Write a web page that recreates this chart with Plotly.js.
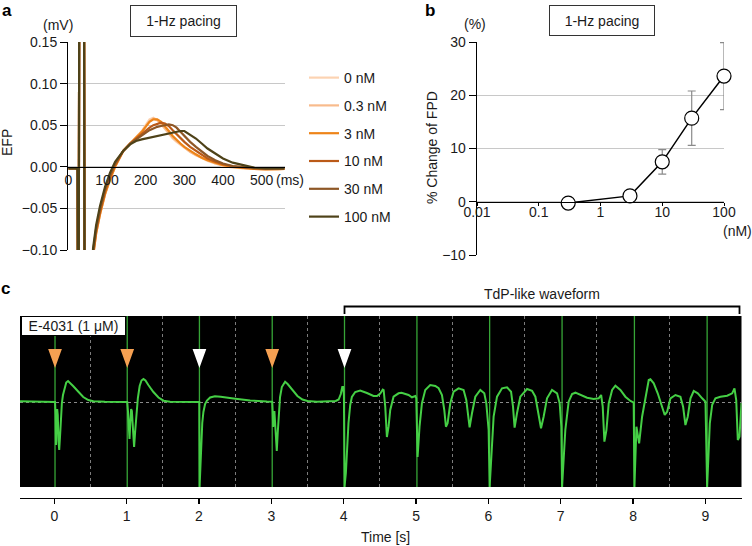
<!DOCTYPE html>
<html><head><meta charset="utf-8">
<script src="https://cdn.plot.ly/plotly-3.0.1.min.js"></script>
<style>html,body{margin:0;padding:0;background:#fff}#chart{width:752px;height:546px}</style>
</head><body><div id="chart"></div><script>
// ---------- Panel a: EFP waveforms ----------
const efpTime = [0,20,24,26,29,40,43,58,64,72,82,95,108,121,142,160,175,190,200,210,220,230,240,250,260,270,280,290,300,315,330,345,360,380,400,425,450,480,510,540,560];
const efpLabels = ['0 nM','0.3 nM','3 nM','10 nM','30 nM','100 nM'];
const efpColors = ['#fcd3b2','#f8bb8c','#ee8418','#bb5a18','#8e5726','#4e4219'];
const efp0   = [-0.002,-0.002,-0.003,-0.4,0.4,0.4,-0.4,-0.2,-0.108,-0.080,-0.057,-0.033,-0.015,0.000,0.019,0.028,0.035,0.043,0.050,0.057,0.059,0.056,0.051,0.045,0.039,0.034,0.030,0.026,0.023,0.018,0.014,0.010,0.007,0.004,0.001,-0.001,-0.002,-0.0025,-0.003,-0.003,-0.0025];
const efp03  = [-0.002,-0.002,-0.003,-0.4,0.4,0.4,-0.4,-0.2,-0.108,-0.080,-0.057,-0.033,-0.015,0.000,0.019,0.028,0.035,0.042,0.049,0.055,0.058,0.056,0.052,0.046,0.040,0.035,0.031,0.027,0.023,0.018,0.014,0.011,0.008,0.004,0.002,0.000,-0.0015,-0.0025,-0.003,-0.003,-0.0025];
const efp3   = [-0.002,-0.002,-0.003,-0.4,0.4,0.4,-0.4,-0.2,-0.108,-0.080,-0.057,-0.033,-0.015,0.000,0.019,0.028,0.035,0.042,0.048,0.054,0.057,0.057,0.054,0.049,0.043,0.037,0.032,0.028,0.024,0.019,0.015,0.011,0.008,0.005,0.002,0.000,-0.0015,-0.0025,-0.003,-0.003,-0.0025];
const efp10  = [-0.002,-0.002,-0.003,-0.4,0.4,0.4,-0.4,-0.2,-0.105,-0.077,-0.054,-0.030,-0.012,0.002,0.019,0.028,0.034,0.040,0.044,0.047,0.050,0.052,0.053,0.052,0.049,0.044,0.039,0.034,0.030,0.024,0.019,0.014,0.010,0.006,0.003,0.0005,-0.001,-0.002,-0.0025,-0.0025,-0.002];
const efp30  = [-0.002,-0.002,-0.003,-0.4,0.4,0.4,-0.4,-0.2,-0.102,-0.074,-0.051,-0.027,-0.010,0.004,0.019,0.028,0.033,0.038,0.041,0.044,0.046,0.048,0.049,0.050,0.051,0.050,0.047,0.042,0.037,0.030,0.024,0.018,0.013,0.008,0.004,0.001,-0.0005,-0.0015,-0.002,-0.0025,-0.002];
const efp100 = [-0.002,-0.002,-0.003,-0.4,0.4,0.4,-0.4,-0.2,-0.098,-0.070,-0.047,-0.024,-0.007,0.006,0.019,0.027,0.031,0.033,0.034,0.035,0.036,0.037,0.038,0.039,0.040,0.041,0.042,0.043,0.043,0.039,0.034,0.028,0.022,0.016,0.010,0.005,0.002,-0.001,-0.002,-0.002,-0.002];
const efpSeries = [efp0, efp03, efp3, efp10, efp30, efp100];
const efpTicks = [0,100,200,300,400,500];
const efpYTicks = [-0.10,-0.05,0,0.05,0.10,0.15];
const efpYText = ['\u22120.10','\u22120.05','0.00','0.05','0.10','0.15'];

// ---------- Panel b: % change of FPD ----------
const concNM = [0.3, 3, 10, 30, 100];
const fpdChange = [-0.25, 1.1, 7.5, 15.7, 23.6];
const fpdErr = [0, 0, 2.3, 5.1, 6.3];
const concTicks = [0.01, 0.1, 1, 10, 100];
const concTickText = ['0.01','0.1','1','10','100'];

// ---------- Panel c: E-4031 recording ----------
const ecgT = [-0.474,-0.3,-0.1,0.002,
 0.010,0.018,0.024,0.030,0.040,0.048,0.058,0.068,0.078,0.092,0.105,0.12,0.14,0.165,0.19,0.215,0.26,0.33,0.40,0.47,0.54,0.7,0.9,1.004,
 1.008,1.018,1.028,1.040,1.05,1.062,1.072,1.09,1.103,1.118,1.135,1.155,1.18,1.205,1.232,1.26,1.30,1.37,1.44,1.51,1.60,1.8,1.95,2.004,
 2.008,2.02,2.032,2.045,2.061,2.084,2.11,2.154,2.22,2.3,2.476,2.707,2.938,3.005,
 3.012,3.018,3.025,3.032,3.042,3.052,3.065,3.075,3.088,3.105,3.12,3.145,3.175,3.19,3.225,3.29,3.36,3.43,3.5,3.63,3.75,3.89,3.93,3.96,3.98,3.992,4.003,
 4.011,4.03,4.044,4.066,4.09,4.113,4.159,4.228,4.321,4.412,4.46,4.505,4.54,4.552,4.574,4.597,4.62,4.643,4.689,4.758,4.8,4.896,4.943,4.965,4.99,5.003,
 5.012,5.021,5.048,5.081,5.127,5.196,5.266,5.312,5.358,5.39,5.413,5.436,5.473,5.519,5.588,5.657,5.694,5.718,5.74,5.773,5.819,5.888,5.943,5.971,6.003,
 6.017,6.05,6.072,6.119,6.188,6.257,6.313,6.34,6.362,6.395,6.441,6.534,6.603,6.649,6.694,6.727,6.763,6.81,6.879,6.949,6.985,7.008,
 7.018,7.063,7.109,7.156,7.202,7.271,7.364,7.455,7.524,7.558,7.58,7.603,7.631,7.663,7.71,7.755,7.824,7.893,7.963,8.008,
 8.018,8.046,8.064,8.083,8.124,8.17,8.216,8.239,8.285,8.34,8.401,8.437,8.47,8.516,8.585,8.654,8.691,8.723,8.755,8.793,8.838,8.894,8.954,9.0,
 9.023,9.06,9.093,9.138,9.207,9.3,9.369,9.401,9.425,9.447,9.47,9.488,9.498];
const ecgV = [1.8,1.5,1.2,1,
 1,-12,-42,-22,-6,-12,-38,-47,-35,-12,0,8,15,20.5,22,20.5,17,11.5,6,3,1.7,1.2,1,1,
 1,-8,-22,-36,-20,-6,-8,-38,-44,-28,-10,5,17,22.5,24,22.5,18,11,5.5,2.3,1.2,1,0.8,1,
 -84,-60,-36,-20,-9,-1,2.5,5.5,6.7,6.3,4.5,2.5,1.5,1.3,
 1.3,-8,-24,-18,-8,-22,-45,-48,-30,-5,6,16,20.7,21.3,19,13,7,3.5,2,1.3,1.3,2,3.5,9,16,16,8,
 -84,-70,-50,-20,-2,6,11,12.5,10,7,7,9.5,13.5,13,-3.7,-34,-23.7,-7,6.3,9.7,10.3,8,5.7,6.3,7,4.7,
 -20,-54,-23.7,-0.3,13,18,17,14.7,8,-7,-23.7,-20.3,-0.3,11.3,14.7,13,3,-13.7,-24.3,-10.3,6.3,13,9.7,-0.3,-27,
 -84,-37,-13.7,6.3,14.7,15.7,11.3,-3.7,-24.7,-10.3,6.3,14,12.3,6.3,-10.3,-25.3,-13.7,4.7,13,9.7,-0.3,-23.7,
 -84,-27,1.3,9,10.3,8,5.3,4,4.7,8,-3.7,-38.7,-27,-0.3,13,17.3,13,6.3,2,0.3,
 -84,-23.7,-30.3,-40.3,-13.7,6.3,23,23.7,19.7,9.7,-3.7,-12,-8.7,4.7,8,6.3,-3.7,-22,-13.7,4.7,12,9.7,4.7,1.3,
 -84,-20.3,-1.7,4.7,6.3,7.3,9.7,14.7,3,-37,-33.7,-10.3,0];
const stimT = [0.010,1.008,2.006,3.012,4.011,5.012,6.017,7.018,8.018,9.023];
const arrowT = [0.010,1.008,2.006,3.012,4.011];
const arrowKind = ['paced','paced','spont','paced','spont'];
const timeTicks = [0,1,2,3,4,5,6,7,8,9];
const halfGrid = [0.5,1.5,2.5,3.5,4.5,5.5,6.5,7.5,8.5];
const cRange = [-84, 87];

// ---------- geometry helpers ----------
const W = 752, H = 546;
const fx = p => p / W;
const fy = p => 1 - p / H;
const FONT = 'Liberation Sans, Arial, Helvetica, sans-serif';
const TXT = '#1a1a1a';

const traces = [];
efpSeries.forEach((vals, i) => {
  traces.push({
    type: 'scatter', mode: 'lines', x: efpTime, y: vals, xaxis: 'x', yaxis: 'y',
    name: efpLabels[i], legendgroup: 'g' + i,
    line: {color: efpColors[i], width: 2.2}
  });
});
traces.push({
  type: 'scatter', mode: 'lines+markers', x: concNM, y: fpdChange, xaxis: 'x2', yaxis: 'y2',
  showlegend: false, cliponaxis: false,
  line: {color: '#000', width: 1.5},
  marker: {size: 14, color: '#fff', line: {color: '#000', width: 1.2}},
  error_y: {type: 'data', array: fpdErr, visible: true, color: '#8a8a8a', thickness: 1.2, width: 4}
});
// stimulus lines
const sx = [], sy = [];
stimT.forEach(t => { sx.push(t, t, null); sy.push(cRange[0], cRange[1], null); });
traces.push({type: 'scatter', mode: 'lines', x: sx, y: sy, xaxis: 'x3', yaxis: 'y3', showlegend: false,
  line: {color: '#37a537', width: 1.3}});
traces.push({type: 'scatter', mode: 'lines', x: ecgT, y: ecgV, xaxis: 'x3', yaxis: 'y3', showlegend: false,
  line: {color: '#45cf45', width: 2}});
// arrows
const hw = 0.095, aTop = 54, aTip = 35;
['paced', 'spont'].forEach(kind => {
  const ax = [], ay = [];
  arrowT.forEach((t, i) => {
    if (arrowKind[i] !== kind) return;
    ax.push(t - hw, t + hw, t, t - hw, null);
    ay.push(aTop, aTop, aTip, aTop, null);
  });
  const col = kind === 'paced' ? '#f5a052' : '#ffffff';
  traces.push({type: 'scatter', mode: 'lines', x: ax, y: ay, xaxis: 'x4', yaxis: 'y3', showlegend: false,
    fill: 'toself', fillcolor: col, line: {width: 0, color: col}});
});

const tickFont = {family: FONT, size: 14, color: TXT};
const layout = {
  width: W, height: H, margin: {l: 0, r: 0, t: 0, b: 0},
  paper_bgcolor: '#fff', plot_bgcolor: 'rgba(0,0,0,0)',
  font: {family: FONT, size: 14, color: TXT},
  showlegend: true,
  legend: {x: fx(304), xanchor: 'left', y: fy(62), yanchor: 'top', traceorder: 'grouped',
    tracegroupgap: 6.6, bgcolor: 'rgba(0,0,0,0)', font: {family: FONT, size: 14, color: TXT}},
  xaxis: {domain: [fx(68.3), fx(284.5)], range: [0, 559], anchor: 'free', position: fy(166.7),
    showline: true, linecolor: '#000', linewidth: 1.3, ticks: '', tickvals: efpTicks,
    showgrid: false, zeroline: false, tickfont: tickFont, fixedrange: true},
  yaxis: {domain: [fy(250), fy(42)], range: [-0.10, 0.15], anchor: 'x',
    showline: true, linecolor: '#000', linewidth: 1.3, ticks: 'outside', ticklen: 7, tickcolor: '#000',
    tickvals: efpYTicks, ticktext: efpYText, showgrid: true, gridcolor: '#c8c8c8', gridwidth: 1.3,
    zeroline: false, tickfont: tickFont},
  xaxis2: {type: 'log', domain: [fx(477), fx(724)], range: [-2, 2], anchor: 'free', position: fy(202),
    showline: true, linecolor: '#000', linewidth: 1.3, ticks: 'outside', ticklen: 3, tickcolor: '#000',
    ticklabelstandoff: -6,
    tickvals: concTicks, ticktext: concTickText, showgrid: false, zeroline: false, tickfont: tickFont},
  yaxis2: {domain: [fy(255), fy(42)], range: [-10, 30], anchor: 'x2', dtick: 10,
    showline: true, linecolor: '#000', linewidth: 1.3, ticks: 'outside', ticklen: 7, tickcolor: '#000',
    showgrid: true, gridcolor: '#c8c8c8', gridwidth: 1.3, zeroline: false, tickfont: tickFont},
  xaxis3: {domain: [fx(20), fx(741.5)], range: [-0.474, 9.498], anchor: 'free', position: fy(497.5),
    showline: true, linecolor: '#000', linewidth: 1.3, ticks: 'outside', ticklen: 5, tickwidth: 1.3, tickcolor: '#000',
    tickvals: timeTicks, showgrid: false, zeroline: false, tickfont: tickFont},
  xaxis4: {overlaying: 'x3', anchor: 'y3', range: [-0.474, 9.498], showticklabels: false, ticks: '',
    showline: false, zeroline: false, showgrid: true, tickvals: halfGrid, gridcolor: '#7c7c7c', griddash: 'dot', gridwidth: 1},
  yaxis3: {domain: [fy(487), fy(316)], range: cRange, anchor: 'x3', showticklabels: false, ticks: '',
    showline: false, zeroline: false, showgrid: true, tickvals: [0.3], gridcolor: '#8a8a8a', griddash: 'dot', gridwidth: 1},
  shapes: [
    {type: 'rect', xref: 'x3 domain', yref: 'y3 domain', x0: 0, x1: 1, y0: 0, y1: 1,
      fillcolor: '#000', line: {width: 0}, layer: 'below'},
    {type: 'path', xref: 'paper', yref: 'paper',
      path: `M${fx(344.5)},${fy(314)} L${fx(344.5)},${fy(306.5)} L${fx(739.5)},${fy(306.5)} L${fx(739.5)},${fy(314)}`,
      line: {color: '#000', width: 1.8}}
  ],
  annotations: []
};
const ann = (x, y, text, extra) => Object.assign({xref: 'paper', yref: 'paper', x: fx(x), y: fy(y), text: text,
  showarrow: false, xanchor: 'center', yanchor: 'middle', font: {family: FONT, size: 14, color: TXT}}, extra || {});
layout.annotations.push(
  ann(7, 10, '<b>a</b>', {font: {family: FONT, size: 17, color: '#000'}}),
  ann(430, 10, '<b>b</b>', {font: {family: FONT, size: 17, color: '#000'}}),
  ann(6, 288, '<b>c</b>', {font: {family: FONT, size: 17, color: '#000'}}),
  ann(58, 25, '(mV)'), ann(290, 180, '(ms)'), ann(475, 24, '(%)'), ann(737, 231, '(nM)'),
  ann(7, 143, 'EFP', {textangle: -90}),
  ann(432, 148, '% Change of FPD', {textangle: -90}),
  ann(183.5, 21, '1-Hz pacing', {bordercolor: '#333', borderwidth: 1, borderpad: 0, width: 105, height: 30, bgcolor: '#fff'}),
  ann(602, 20.5, '1-Hz pacing', {bordercolor: '#333', borderwidth: 1, borderpad: 0, width: 104, height: 29, bgcolor: '#fff'}),
  ann(73.5, 326, 'E-4031 (1 \u03bcM)', {bordercolor: '#000', borderwidth: 1, borderpad: 0, width: 103, height: 18, bgcolor: '#fff'}),
  ann(541.5, 294, 'TdP-like waveform'),
  ann(385, 537, 'Time [s]')
);
Plotly.newPlot('chart', traces, layout, {displayModeBar: false, staticPlot: true});
</script></body></html>
